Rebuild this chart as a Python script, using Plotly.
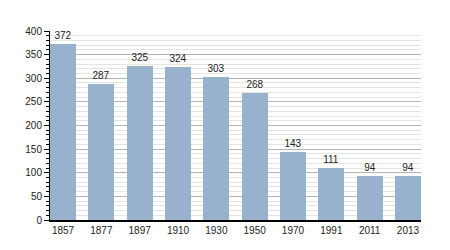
import plotly.graph_objects as go

years = ["1857", "1877", "1897", "1910", "1930", "1950", "1970", "1991", "2011", "2013"]
population = [372, 287, 325, 324, 303, 268, 143, 111, 94, 94]
y_ticks = [0, 50, 100, 150, 200, 250, 300, 350, 400]

fig = go.Figure(go.Bar(
    x=list(range(len(years))), y=population,
    width=0.68,
    marker=dict(color="#98B1CC", line=dict(width=0)),
    text=[str(v) for v in population], textposition="outside",
    textfont=dict(family="Liberation Sans, Arial", size=10, color="#222"),
    cliponaxis=False,
))

fig.update_layout(
    width=450, height=250,
    margin=dict(l=50, r=29, t=31, b=30),
    paper_bgcolor="white", plot_bgcolor="white",
    showlegend=False,
    font=dict(family="Liberation Sans, Arial", size=10, color="#222"),
    bargap=0,
)
fig.update_xaxes(
    range=[-0.34, len(years) - 1 + 0.34],
    tickvals=list(range(len(years))), ticktext=years,
    showgrid=False, zeroline=False,
    showline=True, linecolor="black", linewidth=1.5,
    ticks="", tickfont=dict(size=10),
)
fig.update_yaxes(
    range=[0, 400], tickvals=y_ticks,
    showgrid=True, gridcolor="#b4b4b4", gridwidth=1,
    zeroline=False,
    showline=True, linecolor="black", linewidth=1,
    ticks="outside", ticklen=5, tickcolor="black",
    minor=dict(dtick=10, showgrid=True, gridcolor="#e4e4e4", gridwidth=1,
               ticks="outside", ticklen=3, tickcolor="black"),
    tickfont=dict(size=10),
)
fig.write_html("out.html")
